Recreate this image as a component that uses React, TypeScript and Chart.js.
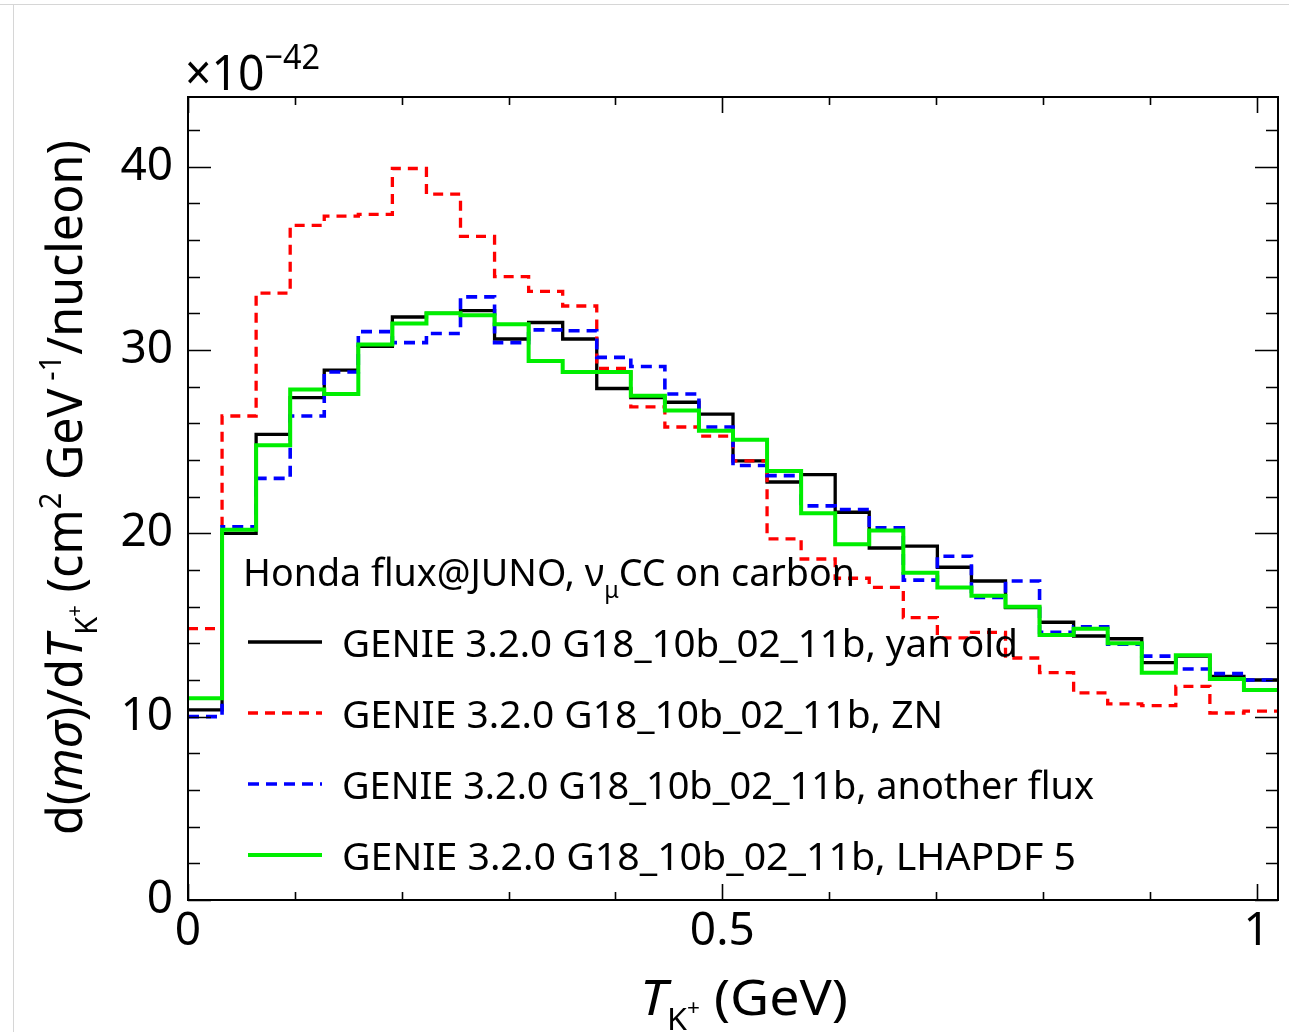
import React, { useEffect, useRef } from "react";
import { Chart, registerables } from "chart.js";

Chart.register(...registerables);

// ---------- data ----------
const binLowEdges = [
  0, 0.031875, 0.06375, 0.095625, 0.1275, 0.159375, 0.19125, 0.223125, 0.255,
  0.286875, 0.31875, 0.350625, 0.3825, 0.414375, 0.44625, 0.478125, 0.51,
  0.541875, 0.57375, 0.605625, 0.6375, 0.669375, 0.70125, 0.733125, 0.765,
  0.796875, 0.82875, 0.860625, 0.8925, 0.924375, 0.95625, 0.988125,
];
const binUpperEdge = 1.02;

const yanOld = [
  10.37, 20.0, 25.4, 27.4, 28.9, 30.2, 31.8, 32.0, 32.15, 30.6, 31.5, 30.6,
  27.9, 27.4, 27.15, 26.5, 23.95, 22.8, 23.2, 21.15, 19.2, 19.3, 18.15, 17.4,
  15.95, 15.15, 14.4, 14.25, 12.95, 13.3, 12.2, 12.0,
];
const zn = [
  14.8, 26.4, 33.1, 36.8, 37.3, 37.4, 39.9, 38.5, 36.2, 34.0, 33.2, 32.4, 29.0,
  26.9, 25.8, 25.3, 23.95, 19.7, 18.6, 17.55, 17.05, 15.4, 14.3, 14.6, 13.2,
  12.4, 11.3, 10.7, 10.6, 11.65, 10.2, 10.3,
];
const anotherFlux = [
  10.0, 20.35, 23.0, 26.4, 28.8, 31.0, 30.4, 30.9, 32.9, 30.4, 31.1, 31.05,
  29.6, 29.1, 27.6, 25.8, 23.7, 23.15, 21.5, 21.3, 20.3, 17.45, 18.75, 16.5,
  17.4, 14.6, 14.9, 13.95, 13.3, 12.6, 12.35, 12.0,
];
const lhapdf5 = [
  11.0, 20.2, 24.8, 27.85, 27.6, 30.3, 31.45, 32.0, 31.9, 31.4, 29.4, 28.8,
  28.8, 27.5, 26.7, 25.6, 25.1, 23.4, 21.1, 19.4, 20.15, 17.85, 17.05, 16.6,
  16.0, 14.45, 14.8, 14.0, 12.4, 13.35, 12.05, 11.45,
];

const seriesLabels = [
  "GENIE 3.2.0 G18_10b_02_11b, yan old",
  "GENIE 3.2.0 G18_10b_02_11b, ZN",
  "GENIE 3.2.0 G18_10b_02_11b, another flux",
  "GENIE 3.2.0 G18_10b_02_11b, LHAPDF 5",
];

const xTickLabels = [0, 0.5, 1];
const yTickLabels = [0, 10, 20, 30, 40];
const xMinorTicks = [0.1, 0.2, 0.3, 0.4, 0.6, 0.7, 0.8, 0.9];
const yMinorTicks = [2, 4, 6, 8, 12, 14, 16, 18, 22, 24, 26, 28, 32, 34, 36, 38, 42];

const X_MAX = 1.02;
const Y_MAX = 43.8;
const FONT = "'Noto Sans', 'DejaVu Sans', sans-serif";

// ---------- helpers ----------
type Seg = { t: string; it?: boolean; s?: number; dy?: number };

function segFont(seg: Seg, size: number) {
  return `${seg.it ? "italic " : ""}${size * (seg.s ?? 1)}px ${FONT}`;
}

function richWidth(ctx: CanvasRenderingContext2D, segs: Seg[], size: number) {
  let w = 0;
  for (const s of segs) {
    ctx.font = segFont(s, size);
    w += ctx.measureText(s.t).width;
  }
  return w;
}

function drawRich(
  ctx: CanvasRenderingContext2D,
  segs: Seg[],
  x: number,
  y: number,
  size: number,
  targetW?: number,
  rotate = 0
) {
  const w = richWidth(ctx, segs, size);
  const sx = targetW ? targetW / w : 1;
  ctx.save();
  ctx.translate(x, y);
  if (rotate) ctx.rotate(rotate);
  ctx.scale(sx, 1);
  ctx.fillStyle = "#000";
  ctx.textBaseline = "alphabetic";
  ctx.textAlign = "left";
  let cx = 0;
  for (const s of segs) {
    ctx.font = segFont(s, size);
    ctx.fillText(s.t, cx, (s.dy ?? 0) * size);
    cx += ctx.measureText(s.t).width;
  }
  ctx.restore();
}

function histPoints(values: number[]) {
  const pts = binLowEdges.map((x, i) => ({ x, y: values[i] }));
  pts.push({ x: binUpperEdge, y: values[values.length - 1] });
  return pts;
}

const decorPlugin = {
  id: "decor",
  afterDatasetsDraw(chart: any) {
    const ctx: CanvasRenderingContext2D = chart.ctx;
    const { left, right, top, bottom } = chart.chartArea;
    const xs = chart.scales.x;
    const ys = chart.scales.y;

    ctx.save();
    ctx.strokeStyle = "#000";
    ctx.lineWidth = 2;
    ctx.setLineDash([]);
    ctx.strokeRect(left, top, right - left, bottom - top);

    ctx.lineWidth = 1.6;
    ctx.beginPath();
    const yTick = (v: number, len: number) => {
      const py = Math.round(ys.getPixelForValue(v)) + 0.5;
      ctx.moveTo(left, py);
      ctx.lineTo(left + len, py);
      ctx.moveTo(right, py);
      ctx.lineTo(right - len, py);
    };
    yTickLabels.forEach((v) => yTick(v, 23));
    yMinorTicks.forEach((v) => yTick(v, 12));
    const xTick = (v: number, len: number) => {
      const px = Math.round(xs.getPixelForValue(v)) + 0.5;
      ctx.moveTo(px, bottom);
      ctx.lineTo(px, bottom - len);
      ctx.moveTo(px, top);
      ctx.lineTo(px, top + len);
    };
    xTickLabels.forEach((v) => xTick(v, 16));
    xMinorTicks.forEach((v) => xTick(v, 8));
    ctx.stroke();
    ctx.restore();

    // legend
    const ds = chart.data.datasets;
    drawRich(
      ctx,
      [
        { t: "Honda flux@JUNO, " },
        { t: "ν" },
        { t: "μ", s: 0.62, dy: 0.3 },
        { t: "CC on carbon" },
      ],
      243,
      586,
      39,
      612
    );
    const rowY = [642, 713, 784, 855];
    const targets = [676, 601, 752, 734];
    ds.forEach((d: any, i: number) => {
      ctx.save();
      ctx.strokeStyle = d.borderColor;
      ctx.lineWidth = d.borderWidth;
      ctx.setLineDash(d.borderDash || []);
      ctx.beginPath();
      ctx.moveTo(248, rowY[i]);
      ctx.lineTo(322, rowY[i]);
      ctx.stroke();
      ctx.restore();
      drawRich(ctx, [{ t: d.label }], 342, rowY[i] + 15, 39, targets[i]);
    });

    // exponent
    drawRich(
      ctx,
      [{ t: "×10" }, { t: "−42", s: 0.7, dy: -0.42 }],
      185,
      90,
      50,
      135
    );

    // x title
    drawRich(
      ctx,
      [
        { t: "T", it: true },
        { t: "K", s: 0.6, dy: 0.3 },
        { t: "+", s: 0.42, dy: 0.0 },
        { t: " (GeV)" },
      ],
      640,
      1015,
      50,
      208
    );

    // y title
    drawRich(
      ctx,
      [
        { t: "d(" },
        { t: "mσ", it: true },
        { t: ")/d" },
        { t: "T", it: true },
        { t: "K", s: 0.6, dy: 0.3 },
        { t: "+", s: 0.42, dy: 0.0 },
        { t: " (cm" },
        { t: "2", s: 0.6, dy: -0.42 },
        { t: " GeV" },
        { t: " -1", s: 0.6, dy: -0.42 },
        { t: "/nucleon)" },
      ],
      82,
      835,
      50,
      695,
      -Math.PI / 2
    );
  },
};

export default function App() {
  const ref = useRef<HTMLCanvasElement>(null);

  useEffect(() => {
    if (!ref.current) return;
    const mk = (label: string, values: number[], color: string, width: number, dash: number[], order: number) => ({
      label,
      data: histPoints(values),
      borderColor: color,
      backgroundColor: color,
      borderWidth: width,
      borderDash: dash,
      stepped: "before" as const,
      pointRadius: 0,
      fill: false,
      order,
    });
    const chart = new Chart(ref.current, {
      type: "line",
      data: {
        datasets: [
          mk(seriesLabels[0], yanOld, "#000000", 3.3, [], 4),
          mk(seriesLabels[1], zn, "#ff0000", 3.3, [10, 7], 3),
          mk(seriesLabels[2], anotherFlux, "#0000ff", 3.6, [11, 7], 2),
          mk(seriesLabels[3], lhapdf5, "#00ee00", 4, [], 1),
        ],
      },
      options: {
        responsive: false,
        animation: false,
        events: [],
        layout: { padding: { left: 0, right: 11, top: 97, bottom: 0 } },
        plugins: { legend: { display: false }, tooltip: { enabled: false } },
        scales: {
          x: {
            type: "linear",
            min: 0,
            max: X_MAX,
            grid: { display: false, drawTicks: false },
            border: { display: false },
            afterBuildTicks: (s: any) => {
              s.ticks = xTickLabels.map((v) => ({ value: v }));
            },
            afterFit: (s: any) => {
              s.height = 132;
            },
            ticks: {
              autoSkip: false,
              maxRotation: 0,
              padding: 4,
              color: "#000",
              font: { family: FONT, size: 46 },
              callback: (v: any) => String(v),
            },
          },
          y: {
            type: "linear",
            min: 0,
            max: Y_MAX,
            grid: { display: false, drawTicks: false },
            border: { display: false },
            afterBuildTicks: (s: any) => {
              s.ticks = yTickLabels.map((v) => ({ value: v }));
            },
            afterFit: (s: any) => {
              s.width = 188;
            },
            ticks: {
              autoSkip: false,
              padding: 15,
              color: "#000",
              font: { family: FONT, size: 46 },
              callback: (v: any) => String(v),
            },
          },
        },
      },
      plugins: [decorPlugin],
    });
    return () => chart.destroy();
  }, []);

  return (
    <div
      style={{
        position: "absolute",
        left: 0,
        top: 0,
        width: 1289,
        height: 1032,
        background: "#fff",
        overflow: "hidden",
      }}
    >
      <div style={{ position: "absolute", left: 0, top: 4, width: 1289, height: 1, background: "#d6d6d6" }} />
      <div style={{ position: "absolute", left: 13, top: 4, width: 1, height: 1028, background: "#d6d6d6" }} />
      <canvas ref={ref} width={1289} height={1032} style={{ position: "absolute", left: 0, top: 0 }} />
    </div>
  );
}
